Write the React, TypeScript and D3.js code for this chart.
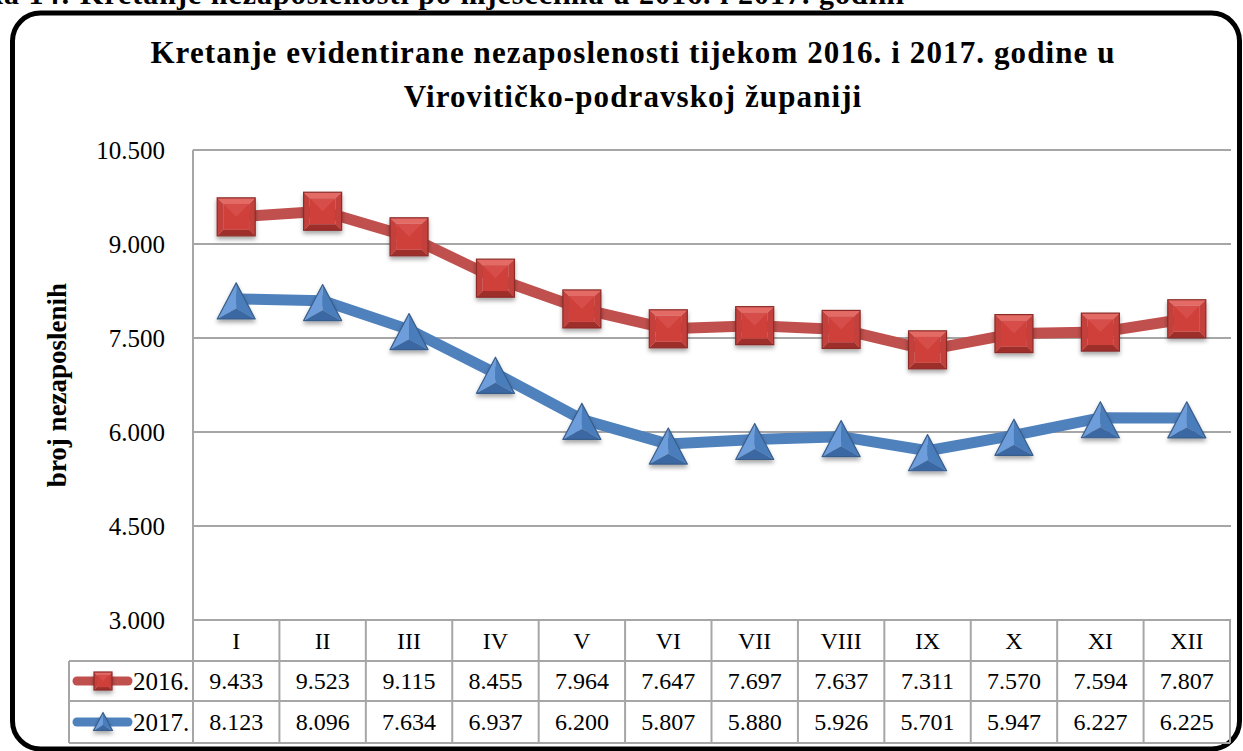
import React from "react";
import * as d3 from "d3";

const months = ["I", "II", "III", "IV", "V", "VI", "VII", "VIII", "IX", "X", "XI", "XII"];
const values2016 = [9433, 9523, 9115, 8455, 7964, 7647, 7697, 7637, 7311, 7570, 7594, 7807];
const values2017 = [8123, 8096, 7634, 6937, 6200, 5807, 5880, 5926, 5701, 5947, 6227, 6225];
const yTicks = [3000, 4500, 6000, 7500, 9000, 10500];
const titleLines = [
  "Kretanje evidentirane nezaposlenosti tijekom 2016. i 2017. godine u",
  "Virovitičko-podravskoj županiji",
];
const yLabel = "broj nezaposlenih";
const caption = "Slika 14: Kretanje nezaposlenosti po mjesecima u 2016. i 2017. godini";

const fmt = (v: number) => d3.format(",")(v).replace(/,/g, ".");

const FONT = "'Liberation Serif', 'Times New Roman', serif";
const W = 1243;
const H = 751;
const left = 193;
const right = 1230;
const top = 150;
const bottom = 620;
const rowH = [41, 40, 42];
const legendX = 69;
const GRID = "#a6a6a6";

const RED = { line: "#c0504d", base: "#d03f3a", light: "#e36a65", mid: "#c4403c", dark: "#9e2f2c", edge: "#8c2a27" };
const BLUE = { line: "#4f81bd", base: "#4f85c6", light: "#6d9edb", mid: "#4a7dbb", dark: "#3a68a2", edge: "#385d8a" };

function Square({ x, y, h, c }: { x: number; y: number; h: number; c: typeof RED }) {
  const b = h * 0.68;
  const p = (pts: number[][]) => pts.map((q) => `${x + q[0]},${y + q[1]}`).join(" ");
  return (
    <g filter="url(#shadow)">
      <polygon points={p([[-h, -h], [h, -h], [b, -b], [-b, -b]])} fill={c.light} />
      <polygon points={p([[h, -h], [h, h], [b, b], [b, -b]])} fill={c.mid} />
      <polygon points={p([[h, h], [-h, h], [-b, b], [b, b]])} fill={c.dark} />
      <polygon points={p([[-h, h], [-h, -h], [-b, -b], [-b, b]])} fill={c.mid} />
      <polygon points={p([[-b, -b], [b, -b], [b, b], [-b, b]])} fill={c.base} />
      <polygon points={p([[-b, -b], [b, -b], [0, 0]])} fill={c.light} opacity={0.35} />
      <rect x={x - h} y={y - h} width={2 * h} height={2 * h} fill="none" stroke={c.edge} strokeWidth={1.2} />
    </g>
  );
}

function Triangle({ x, y, s, c }: { x: number; y: number; s: number; c: typeof BLUE }) {
  const apex = [x, y - s * 0.9];
  const bl = [x - s, y + s];
  const br = [x + s, y + s];
  const cen = [x, y + s * 0.45];
  const p = (pts: number[][]) => pts.map((q) => `${q[0]},${q[1]}`).join(" ");
  return (
    <g filter="url(#shadow)">
      <polygon points={p([apex, bl, cen])} fill={c.light} />
      <polygon points={p([apex, br, cen])} fill={c.mid} />
      <polygon points={p([bl, br, cen])} fill={c.dark} />
      <polygon points={p([apex, bl, br])} fill="none" stroke={c.edge} strokeWidth={1.2} strokeLinejoin="round" />
    </g>
  );
}

export default function App() {
  const x = d3.scaleBand<string>().domain(months).range([left, right]);
  const y = d3.scaleLinear().domain([3000, 10500]).range([bottom, top]);
  const cx = (m: string) => (x(m) as number) + x.bandwidth() / 2;

  const line = d3
    .line<number>()
    .x((_, i) => cx(months[i]))
    .y((d) => y(d));

  const r0 = bottom;
  const r1 = r0 + rowH[0];
  const r2 = r1 + rowH[1];
  const r3 = r2 + rowH[2];

  return (
    <svg
      width={W}
      height={H}
      style={{ position: "absolute", left: 0, top: 0, background: "#fff" }}
      fontFamily={FONT}
    >
      <defs>
        <filter id="shadow" x="-50%" y="-50%" width="200%" height="200%">
          <feDropShadow dx={0} dy={3} stdDeviation={2.2} floodColor="#000" floodOpacity={0.35} />
        </filter>
      </defs>

      {/* caption of the figure, cut by the page edge as in the source */}
      <text x={905} y={4} textAnchor="end" fontSize={30} fontWeight="bold" letterSpacing={1} fill="#000">
        {caption}
      </text>

      <rect x={12.5} y={13} width={1227} height={736} rx={28} ry={28} fill="#fff" stroke="#000" strokeWidth={5} />

      {/* title */}
      {titleLines.map((t, i) => (
        <text
          key={i}
          x={633}
          y={63 + i * 44}
          textAnchor="middle"
          fontSize={31}
          fontWeight="bold"
          letterSpacing={1.1}
          fill="#000"
        >
          {t}
        </text>
      ))}

      {/* y label */}
      <text
        transform={`translate(66, ${(top + bottom) / 2}) rotate(-90)`}
        textAnchor="middle"
        fontSize={27}
        fontWeight="bold"
        fill="#000"
      >
        {yLabel}
      </text>

      {/* grid */}
      {yTicks.map((t) => (
        <g key={t}>
          <line x1={left} x2={right + 1} y1={y(t)} y2={y(t)} stroke={GRID} strokeWidth={2} />
          <text x={165} y={y(t) + 9} textAnchor="end" fontSize={25} fill="#000">
            {fmt(t)}
          </text>
        </g>
      ))}
      <line x1={left} x2={left} y1={top} y2={r3} stroke={GRID} strokeWidth={2} />

      {/* data table */}
      <g stroke={GRID} strokeWidth={2}>
        <line x1={legendX} x2={right} y1={r1} y2={r1} />
        <line x1={legendX} x2={right} y1={r2} y2={r2} />
        <line x1={legendX} x2={right} y1={r3} y2={r3} />
        <line x1={legendX} x2={legendX} y1={r1} y2={r3} />
        {months.map((m) => (
          <line key={m} x1={(x(m) as number) + x.bandwidth()} x2={(x(m) as number) + x.bandwidth()} y1={r0} y2={r3} />
        ))}
      </g>
      {months.map((m, i) => (
        <g key={m} fontSize={24} textAnchor="middle" fill="#000">
          <text x={cx(m)} y={(r0 + r1) / 2 + 8}>{m}</text>
          <text x={cx(m)} y={(r1 + r2) / 2 + 8}>{fmt(values2016[i])}</text>
          <text x={cx(m)} y={(r2 + r3) / 2 + 8}>{fmt(values2017[i])}</text>
        </g>
      ))}

      {/* legend keys */}
      <line x1={77} x2={128} y1={(r1 + r2) / 2} y2={(r1 + r2) / 2} stroke={RED.line} strokeWidth={9} strokeLinecap="round" />
      <Square x={103} y={(r1 + r2) / 2} h={9} c={RED} />
      <text x={133} y={(r1 + r2) / 2 + 9} fontSize={25} fill="#000">2016.</text>
      <line x1={77} x2={128} y1={(r2 + r3) / 2} y2={(r2 + r3) / 2} stroke={BLUE.line} strokeWidth={9} strokeLinecap="round" />
      <Triangle x={103} y={(r2 + r3) / 2 - 1} s={9.5} c={BLUE} />
      <text x={133} y={(r2 + r3) / 2 + 9} fontSize={25} fill="#000">2017.</text>

      {/* series */}
      <path d={line(values2016) as string} fill="none" stroke={RED.line} strokeWidth={11} strokeLinejoin="round" />
      <path d={line(values2017) as string} fill="none" stroke={BLUE.line} strokeWidth={11} strokeLinejoin="round" />
      {values2016.map((v, i) => (
        <Square key={i} x={cx(months[i])} y={y(v)} h={19} c={RED} />
      ))}
      {values2017.map((v, i) => (
        <Triangle key={i} x={cx(months[i])} y={y(v) + 1} s={19} c={BLUE} />
      ))}
    </svg>
  );
}
